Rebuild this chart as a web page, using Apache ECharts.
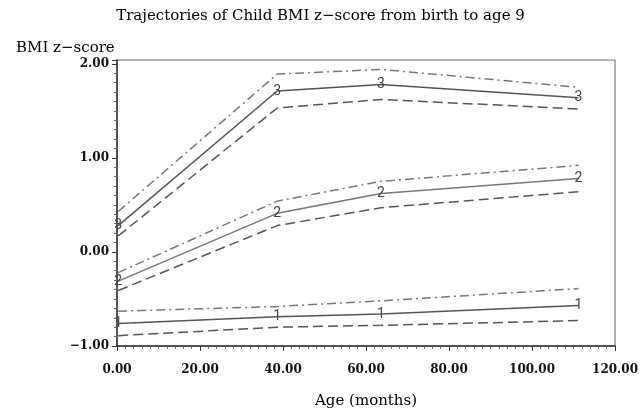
<!DOCTYPE html>
<html>
<head>
<meta charset="utf-8">
<script src="https://cdn.jsdelivr.net/npm/echarts@6/dist/echarts.min.js"></script>
<style>
html,body{margin:0;padding:0;background:#fff;}
#chart{width:641px;height:414px;}
</style>
</head>
<body>
<div id="chart"></div>
<script>
// ---- data ----
const titleText = 'Trajectories of Child BMI z\u2212score from birth to age 9';
const yAxisTitle = 'BMI z\u2212score';
const xAxisTitle = 'Age (months)';
const ageMonths = [0.3, 38.6, 63.6, 111.2];

const g1Mean  = [-0.76, -0.69, -0.66, -0.57];
const g1Upper = [-0.63, -0.58, -0.52, -0.39];
const g1Lower = [-0.89, -0.80, -0.78, -0.73];

const g2Mean  = [-0.31, 0.41, 0.62, 0.78];
const g2Upper = [-0.22, 0.54, 0.75, 0.92];
const g2Lower = [-0.41, 0.28, 0.47, 0.64];

const g3Mean  = [0.28, 1.71, 1.78, 1.64];
const g3Upper = [0.43, 1.89, 1.94, 1.75];
const g3Lower = [0.17, 1.53, 1.62, 1.52];

const groupLabels = ['1', '2', '3'];

const xTicks = {min: 0, max: 120, interval: 20};
const yTicks = {min: -1, max: 2.04, interval: 1};

// ---- build ----
const pts = arr => ageMonths.map((x, i) => [x, arr[i]]);
const serif = 'DejaVu Serif';
const fmt = v => v.toFixed(2).replace('-', '\u2212');

function meanSeries(arr, label, color) {
  return {
    type: 'line', data: pts(arr), symbol: 'circle', symbolSize: 0.1,
    itemStyle: {color: 'transparent'},
    lineStyle: {color: color, width: 1.5, type: 'solid'},
    label: {show: true, position: 'inside', formatter: label,
            color: '#444', fontFamily: 'Roboto', fontSize: 14, fontWeight: 'normal'},
    silent: true, z: 3
  };
}
function ciSeries(arr, dash, color) {
  return {
    type: 'line', data: pts(arr), symbol: 'none', showSymbol: false,
    lineStyle: {color: color, width: 1.5, type: dash},
    silent: true, z: 2
  };
}
const dashDot = [9, 4, 2, 4];
const dashed = [10, 5];

const option = {
  animation: false,
  backgroundColor: '#fff',
  title: [
    {text: titleText, left: 'center', top: 4,
     textStyle: {fontFamily: serif, fontSize: 15, fontWeight: 'normal', color: '#000'}},
    {text: yAxisTitle, left: 11, top: 36,
     textStyle: {fontFamily: serif, fontSize: 15, fontWeight: 'normal', color: '#000'}}
  ],
  grid: {left: 117, right: 20, top: 60, bottom: 66, show: true,
         borderColor: '#666', borderWidth: 1, backgroundColor: 'transparent'},
  xAxis: {
    type: 'value', min: xTicks.min, max: xTicks.max, interval: xTicks.interval,
    name: xAxisTitle, nameLocation: 'middle', nameGap: 48,
    nameTextStyle: {fontFamily: serif, fontSize: 15, color: '#000'},
    axisLine: {show: true, onZero: false, lineStyle: {color: '#333', width: 1.5}},
    axisTick: {show: true, length: 5, lineStyle: {color: '#333'}},
    minorTick: {show: true, splitNumber: 10, length: 3, lineStyle: {color: '#666'}},
    splitLine: {show: false},
    axisLabel: {formatter: fmt, margin: 18, fontFamily: serif, fontSize: 12,
                fontWeight: 'bold', color: '#111'}
  },
  yAxis: {
    type: 'value', min: yTicks.min, max: yTicks.max, interval: yTicks.interval,
    axisLine: {show: true, onZero: false, lineStyle: {color: '#333', width: 1.5}},
    axisTick: {show: true, length: 5, lineStyle: {color: '#333'}},
    minorTick: {show: true, splitNumber: 10, length: 3, lineStyle: {color: '#666'}},
    splitLine: {show: false},
    axisLabel: {formatter: fmt, margin: 8, fontFamily: serif, fontSize: 12,
                fontWeight: 'bold', color: '#111', showMaxLabel: false}
  },
  series: [
    ciSeries(g3Upper, dashDot, '#777'),
    meanSeries(g3Mean, groupLabels[2], '#555'),
    ciSeries(g3Lower, dashed, '#555'),
    ciSeries(g2Upper, dashDot, '#777'),
    meanSeries(g2Mean, groupLabels[1], '#777'),
    ciSeries(g2Lower, dashed, '#555'),
    ciSeries(g1Upper, dashDot, '#777'),
    meanSeries(g1Mean, groupLabels[0], '#555'),
    ciSeries(g1Lower, dashed, '#555')
  ]
};
echarts.init(document.getElementById('chart')).setOption(option);
</script>
</body>
</html>
